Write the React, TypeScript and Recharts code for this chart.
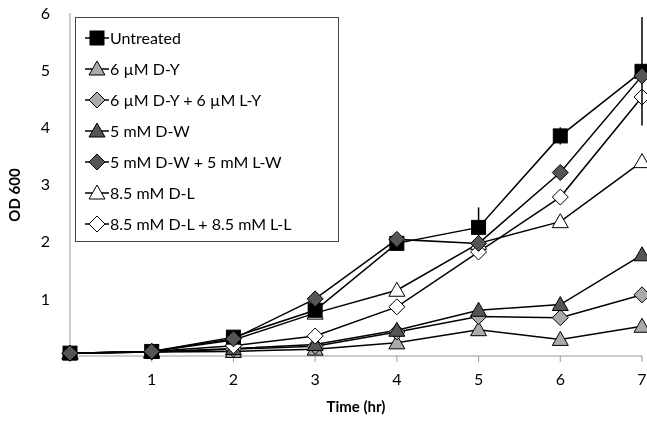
import React from 'react';
import { LineChart, Line, XAxis, YAxis } from 'recharts';

const times = [0, 1, 2, 3, 4, 5, 6, 7];
const untreated = [0.05, 0.08, 0.33, 0.8, 1.97, 2.25, 3.85, 4.98];
const untreatedErr = [0, 0, 0, 0, 0, 0.35, 0.15, 0.95];
const dY = [0.05, 0.07, 0.08, 0.12, 0.23, 0.46, 0.29, 0.52];
const dYlY = [0.05, 0.07, 0.12, 0.17, 0.42, 0.69, 0.67, 1.07];
const dW = [0.05, 0.07, 0.13, 0.2, 0.45, 0.8, 0.9, 1.77];
const dWlW = [0.05, 0.08, 0.3, 1.0, 2.04, 1.97, 3.21, 4.9];
const dL = [0.05, 0.08, 0.28, 0.75, 1.15, 1.97, 2.35, 3.4];
const dLlL = [0.05, 0.08, 0.18, 0.35, 0.86, 1.82, 2.78, 4.53];
const yTicks = [1, 2, 3, 4, 5, 6];
const xTicks = [1, 2, 3, 4, 5, 6, 7];

const H = 423;
const M = { top: 13, right: 5, left: 0, bottom: 7 };
const XH = 60;
const YMAX = 6;
const pxPerUnit = (H - M.top - M.bottom - XH) / YMAX;

const data = times.map((t, i) => ({
  t,
  untreated: untreated[i],
  err: untreatedErr[i],
  dY: dY[i],
  dYlY: dYlY[i],
  dW: dW[i],
  dWlW: dWlW[i],
  dL: dL[i],
  dLlL: dLlL[i],
}));

type Kind = 'square' | 'triangle' | 'diamond';
const series: { key: string; name: string; kind: Kind; fill: string }[] = [
  { key: 'dY', name: '6 µM D-Y', kind: 'triangle', fill: '#aaa' },
  { key: 'dYlY', name: '6 µM D-Y + 6 µM L-Y', kind: 'diamond', fill: '#aaa' },
  { key: 'dW', name: '5 mM D-W', kind: 'triangle', fill: '#555' },
  { key: 'dL', name: '8.5 mM D-L', kind: 'triangle', fill: '#fff' },
  { key: 'dLlL', name: '8.5 mM D-L + 8.5 mM L-L', kind: 'diamond', fill: '#fff' },
  { key: 'untreated', name: 'Untreated', kind: 'square', fill: '#000' },
  { key: 'dWlW', name: '5 mM D-W + 5 mM L-W', kind: 'diamond', fill: '#555' },
];
const legendOrder = ['untreated', 'dY', 'dYlY', 'dW', 'dWlW', 'dL', 'dLlL'];

const marker = (kind: Kind, fill: string, cx: number, cy: number, key?: any) => {
  if (kind === 'square')
    return <rect key={key} x={cx - 7} y={cy - 7} width={14} height={14} fill={fill} stroke="#000" />;
  if (kind === 'triangle')
    return <polygon key={key} points={`${cx},${cy - 8} ${cx + 8},${cy + 6} ${cx - 8},${cy + 6}`} fill={fill} stroke="#000" />;
  return <polygon key={key} points={`${cx},${cy - 8} ${cx + 8},${cy} ${cx},${cy + 8} ${cx - 8},${cy}`} fill={fill} stroke="#000" />;
};

const LegendBox = () => (
  <div style={{ position: 'absolute', left: 75, top: 17, border: '1px solid #444', background: '#fff', padding: '4px 14px 2px 8px', width: 240, fontFamily: 'Lato, sans-serif', fontSize: 16 }}>
    {legendOrder.map((k) => {
      const s = series.find((x) => x.key === k)!;
      return (
        <div key={s.key} style={{ display: 'flex', alignItems: 'center', height: 31 }}>
          <svg width={26} height={20}>
            <line x1={1} y1={10} x2={25} y2={10} stroke="#000" strokeWidth={1.5} />
            {marker(s.kind, s.fill, 13, 10)}
          </svg>
          <span>{s.name}</span>
        </div>
      );
    })}
  </div>
);

export default function App() {
  return (
    <div style={{ position: 'fixed', left: 0, top: 0, width: 647, height: H, fontFamily: 'Lato, sans-serif', overflow: 'hidden' }}>
      <LineChart width={647} height={H} data={data} margin={M}>
        <XAxis
          dataKey="t"
          type="number"
          domain={[0, 7]}
          ticks={xTicks}
          stroke="#999"
          tickLine={{ stroke: '#999' }}
          tickSize={6}
          tick={{ fill: '#000', fontSize: 16 }}
          tickMargin={12}
          height={XH}
          label={{ value: 'Time (hr)', position: 'insideBottom', offset: 4, fill: '#000', fontSize: 15, fontWeight: 'bold' }}
        />
        <YAxis
          type="number"
          domain={[0, YMAX]}
          ticks={yTicks}
          width={70}
          stroke="#999"
          tickLine={false}
          tick={{ fill: '#000', fontSize: 16 }}
          tickMargin={14}
        />
        {series.map((s) => (
          <Line
            key={s.key}
            dataKey={s.key}
            name={s.name}
            stroke="#000"
            strokeWidth={1.5}
            isAnimationActive={false}
            dot={(p: any) => {
              const e = s.key === 'untreated' ? p.payload.err * pxPerUnit : 0;
              return (
                <g key={p.index}>
                  {e > 0 && <line x1={p.cx} x2={p.cx} y1={p.cy - e} y2={p.cy + e} stroke="#000" strokeWidth={1.5} />}
                  {marker(s.kind, s.fill, p.cx, p.cy)}
                </g>
              );
            }}
          />
        ))}
      </LineChart>
      <div style={{ position: 'absolute', left: 2, top: 150, width: 24, height: 90, display: 'flex', alignItems: 'center', justifyContent: 'center' }}>
        <div style={{ transform: 'rotate(-90deg)', whiteSpace: 'nowrap', fontWeight: 'bold', fontSize: 15 }}>OD 600</div>
      </div>
      <LegendBox />
    </div>
  );
}
